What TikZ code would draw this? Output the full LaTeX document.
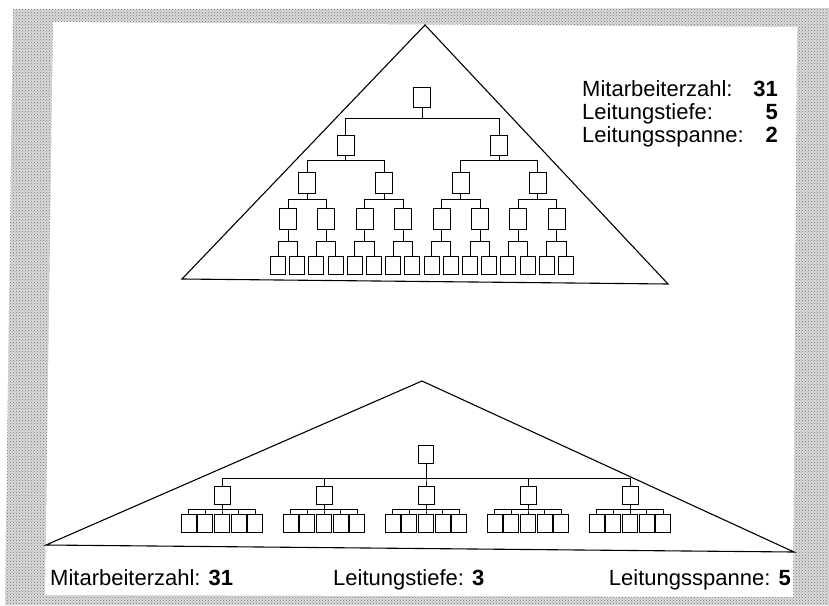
\documentclass[tikz,border=0pt]{standalone}
\usepackage{fontspec}
\setmainfont{Liberation Sans}
\usetikzlibrary{patterns}
\begin{document}
\begin{tikzpicture}[x=1pt,y=-1pt,
  frame/.style={line width=1.1pt,line join=miter},
  unit/.style={draw,line width=0.9pt,inner sep=0pt,minimum width=17pt,minimum height=20pt},
  leaf/.style={unit,minimum width=15pt,minimum height=18pt},
  conn/.style={line width=0.9pt},
  txt/.style={inner sep=0pt,font=\fontsize{22}{26}\selectfont}]
\newcommand\orgedge[3]{\draw[conn] (#1.south) |- ([yshift=#3]#2.north) -- (#2.north);}
\useasboundingbox (0,0) rectangle (829,605);
% sheet: grey card with a white panel
\fill[white] (0,0) rectangle (829,605);
\fill[black!14] (13,9) -- (829,8) -- (829,605) -- (5,605) -- cycle;
\fill[pattern=crosshatch dots,pattern color=black!55] (13,9) -- (829,8) -- (829,605) -- (5,605) -- cycle;
\fill[white] (53,22) -- (797,27) -- (793,597) -- (45,595) -- cycle;

% ---- steep hierarchy ----
\draw[frame] (425,25) -- (182,279) -- (668,284) -- cycle;
\node[unit] (r) at (422.4,97) {};
\foreach \i in {0,1}{
  \node[unit] (a\i) at ({345.6+153.6*\i},145) {};
  \orgedge{r}{a\i}{16pt}
}
\foreach \i in {0,...,3}{
  \pgfmathtruncatemacro\p{floor(\i/2)}
  \node[unit,minimum height=21pt] (b\i) at ({307.2+76.8*\i},182.5) {};
  \orgedge{a\p}{b\i}{11pt}
}
\foreach \i in {0,...,7}{
  \pgfmathtruncatemacro\p{floor(\i/2)}
  \node[unit,minimum height=21pt] (c\i) at ({288+38.4*\i},218.5) {};
  \orgedge{b\p}{c\i}{8pt}
}
\foreach \i in {0,...,15}{
  \pgfmathtruncatemacro\p{floor(\i/2)}
  \node[leaf] (d\i) at ({278+19.2*\i},265) {};
  \orgedge{c\p}{d\i}{14pt}
}
\node[txt,anchor=base west] (t1) at (582,96) {Mitarbeiterzahl:};
\node[txt,anchor=base west] (t2) at (582,119) {Leitungstiefe:};
\node[txt,anchor=base west] (t3) at (582,142) {Leitungsspanne:};
\node[txt,anchor=base east] (v1) at (778,96) {\textbf{31}};
\node[txt,anchor=base east] (v2) at (778,119) {\textbf{5}};
\node[txt,anchor=base east] (v3) at (778,142) {\textbf{2}};

% ---- flat hierarchy ----
\draw[frame] (422,381) -- (46,545) -- (794,552) -- cycle;
\node[leaf] (R) at (426,454) {};
\foreach \i in {0,...,4}{
  \node[leaf,minimum width=16pt] (g\i) at ({222+102*\i},495) {};
  \orgedge{R}{g\i}{7pt}
  \foreach \j in {0,...,4}{
    \node[leaf] (h\i\j) at ({222+102*\i+16.7*(\j-2)},523) {};
    \orgedge{g\i}{h\i\j}{4pt}
  }
}
\node[txt,anchor=base west] (s1) at (50,585) {Mitarbeiterzahl: \textbf{31}};
\node[txt,anchor=base west] (s2) at (333,585) {Leitungstiefe: \textbf{3}};
\node[txt,anchor=base east] (s3) at (791,585) {Leitungsspanne: \textbf{5}};
\end{tikzpicture}
\end{document}
